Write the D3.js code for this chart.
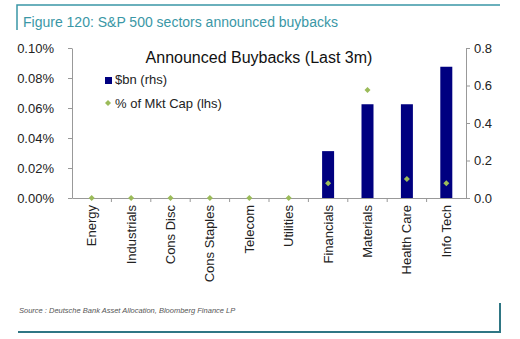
<!DOCTYPE html>
<html>
<head>
<meta charset="utf-8">
<script src="https://cdn.jsdelivr.net/npm/d3@7"></script>
<style>
  body { margin: 0; background: #fff; }
  svg { display: block; }
  svg text { font-family: "Liberation Sans", Arial, sans-serif; }
</style>
</head>
<body>
<div id="chart"></div>
<script>
// sectors and their values
var sectors = ["Energy", "Industrials", "Cons Disc", "Cons Staples", "Telecom",
               "Utilities", "Financials", "Materials", "Health Care", "Info Tech"];
var buybacksBn = [0, 0, 0, 0, 0, 0, 0.25, 0.5, 0.5, 0.7];          // $bn, right axis
var pctMktCap = [0, 0, 0, 0, 0, 0, 0.0098, 0.072, 0.0127, 0.0098];  // %, left axis
var leftTicks = [0, 0.02, 0.04, 0.06, 0.08, 0.10];
var rightTicks = [0, 0.2, 0.4, 0.6, 0.8];

var width = 520, height = 339;
var plot = { left: 72, right: 466, top: 48, bottom: 198 };

var svg = d3.select("#chart").append("svg")
    .attr("width", width)
    .attr("height", height);

// figure frame
var teal = "#3a97a6";
svg.append("path")
    .attr("d", "M17,30V5H500")
    .attr("fill", "none").attr("stroke", teal).attr("stroke-width", 1.5);
svg.append("path")
    .attr("d", "M18,332H500V303")
    .attr("fill", "none").attr("stroke", "#2f7684").attr("stroke-width", 2);

svg.append("text")
    .attr("x", 23).attr("y", 27)
    .attr("fill", teal)
    .style("font-size", "14px")
    .text("Figure 120: S&P 500 sectors announced buybacks");

svg.append("text")
    .attr("x", 19).attr("y", 313)
    .attr("fill", "#555")
    .style("font-size", "7.5px")
    .style("font-style", "italic")
    .text("Source : Deutsche Bank Asset Allocation, Bloomberg Finance LP");

// scales
var x = d3.scaleBand().domain(sectors).range([plot.left, plot.right]);
var yL = d3.scaleLinear().domain([0, 0.10]).range([plot.bottom, plot.top]);
var yR = d3.scaleLinear().domain([0, 0.8]).range([plot.bottom, plot.top]);

var axisColor = "#999";

// axes
var axL = svg.append("g")
    .attr("transform", "translate(" + plot.left + ",0)")
    .call(d3.axisLeft(yL).tickValues(leftTicks).tickSize(4).tickPadding(14)
        .tickFormat(function (d) { return d3.format(".2f")(d) + "%"; }).tickSizeOuter(0));

var axR = svg.append("g")
    .attr("transform", "translate(" + plot.right + ",0)")
    .call(d3.axisRight(yR).tickValues(rightTicks).tickSize(4).tickPadding(4)
        .tickFormat(d3.format(".1f")).tickSizeOuter(0));

var axB = svg.append("g")
    .attr("transform", "translate(0," + plot.bottom + ")")
    .call(d3.axisBottom(x).tickSize(0).tickPadding(8).tickSizeOuter(0));

// bottom ticks sit on the category boundaries
axB.selectAll(".sep")
    .data(sectors.slice(1))
    .enter().append("line")
    .attr("class", "sep")
    .attr("x1", function (d) { return x(d); })
    .attr("x2", function (d) { return x(d); })
    .attr("y1", 0).attr("y2", 4);

axB.selectAll(".tick text")
    .attr("transform", "rotate(-90)")
    .attr("x", -7).attr("y", 0).attr("dy", "0.35em")
    .style("text-anchor", "end");

[axL, axR, axB].forEach(function (a) {
    a.attr("font-family", null);
    a.selectAll("path, line").attr("stroke", axisColor);
    a.selectAll("text").attr("fill", "#222").style("font-size", "13px");
});

var g = svg.append("g");

// bars ($bn)
g.selectAll(".bar")
    .data(buybacksBn)
    .enter().append("rect")
    .attr("class", "bar")
    .attr("x", function (d, i) { return x(sectors[i]) + x.bandwidth() / 2 - 6; })
    .attr("y", function (d) { return yR(d); })
    .attr("width", 12)
    .attr("height", function (d) { return plot.bottom - yR(d); })
    .attr("fill", "#000080");

// diamonds (% of market cap): squares turned 45 degrees
var diamond = d3.symbol().type(d3.symbolSquare).size(18);
g.selectAll(".pt")
    .data(pctMktCap)
    .enter().append("path")
    .attr("class", "pt")
    .attr("d", diamond)
    .attr("transform", function (d, i) {
        return "translate(" + (x(sectors[i]) + x.bandwidth() / 2) + "," + yL(d) + ") rotate(45)";
    })
    .attr("fill", "#9bbb59");

// chart title
svg.append("text")
    .attr("x", 259).attr("y", 63)
    .attr("text-anchor", "middle")
    .attr("fill", "#111")
    .style("font-size", "16px")
    .text("Announced Buybacks (Last 3m)");

// legend
var lg = svg.append("g").attr("transform", "translate(105,0)");
lg.append("rect").attr("x", 0).attr("y", 77).attr("width", 7).attr("height", 7).attr("fill", "#000080");
lg.append("text").attr("x", 10).attr("y", 84).style("font-size", "13px").attr("fill", "#222").text("$bn (rhs)");
lg.append("path").attr("d", diamond).attr("transform", "translate(3,103) rotate(45)").attr("fill", "#9bbb59");
lg.append("text").attr("x", 10).attr("y", 108).style("font-size", "13px").attr("fill", "#222").text("% of Mkt Cap (lhs)");
</script>
</body>
</html>
